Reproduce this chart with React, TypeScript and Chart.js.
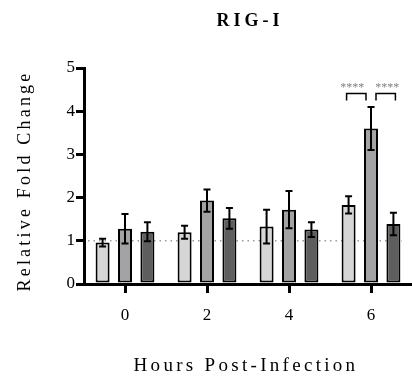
import React, { useEffect, useRef } from "react";
import { Chart, registerables } from "chart.js";

Chart.register(...registerables);

const categories = ["0", "2", "4", "6"];
const seriesA = [0.96, 1.2, 1.33, 1.83];
const seriesAErr = [0.09, 0.15, 0.39, 0.2];
const seriesB = [1.28, 1.93, 1.72, 3.6];
const seriesBErr = [0.34, 0.26, 0.43, 0.5];
const seriesC = [1.21, 1.52, 1.26, 1.39];
const seriesCErr = [0.22, 0.24, 0.17, 0.26];
const seriesColors = ["#d6d6d6", "#a3a3a6", "#5e5e5e"];
const yMin = 0;
const yMax = 5;
const baselineValue = 1;
const titleText = "RIG-I";
const xTitleText = "Hours Post-Infection";
const yTitleText = "Relative Fold Change";
const sigLabel = "****";
const sigCategory = 3;
const sigPairs = [
  [0, 1],
  [1, 2],
];
const sigBracketTop = 4.41;
const sigBracketBottom = 4.25;
const sigTextY = 4.6;

const SERIF = '"Liberation Serif", "Times New Roman", serif';

export default function App() {
  const canvasRef = useRef<HTMLCanvasElement | null>(null);

  useEffect(() => {
    document.body.style.margin = "0";
    const canvas = canvasRef.current;
    if (!canvas) return;
    const errs = [seriesAErr, seriesBErr, seriesCErr];

    const decorPlugin = {
      id: "decor",
      beforeDatasetsDraw(chart: any) {
        const { ctx, chartArea } = chart;
        const y = chart.scales.y.getPixelForValue(baselineValue);
        ctx.save();
        ctx.strokeStyle = "#9a9a9a";
        ctx.lineWidth = 1.5;
        ctx.setLineDash([1.5, 4]);
        ctx.beginPath();
        ctx.moveTo(chartArea.left + 4, y);
        ctx.lineTo(chartArea.right - 10, y);
        ctx.stroke();
        ctx.restore();
      },
      afterDatasetsDraw(chart: any) {
        const { ctx } = chart;
        const ys = chart.scales.y;
        ctx.save();
        ctx.strokeStyle = "#000";
        ctx.lineWidth = 2;
        chart.data.datasets.forEach((ds: any, di: number) => {
          const meta = chart.getDatasetMeta(di);
          meta.data.forEach((bar: any, i: number) => {
            const v = ds.data[i];
            const e = errs[di][i];
            const yt = ys.getPixelForValue(v + e);
            const yb = ys.getPixelForValue(v - e);
            const x = bar.x;
            ctx.beginPath();
            ctx.moveTo(x, yt);
            ctx.lineTo(x, yb);
            ctx.moveTo(x - 3.5, yt);
            ctx.lineTo(x + 3.5, yt);
            ctx.moveTo(x - 3.5, yb);
            ctx.lineTo(x + 3.5, yb);
            ctx.stroke();
          });
        });
        // significance brackets
        ctx.lineWidth = 1.5;
        const yTop = ys.getPixelForValue(sigBracketTop);
        const yBot = ys.getPixelForValue(sigBracketBottom);
        const yTxt = ys.getPixelForValue(sigTextY);
        sigPairs.forEach(([a, b], k) => {
          const xa = chart.getDatasetMeta(a).data[sigCategory].x + (k === 0 ? -2 : 5);
          const xb = chart.getDatasetMeta(b).data[sigCategory].x + (k === 0 ? -5 : 2);
          ctx.strokeStyle = "#000";
          ctx.beginPath();
          ctx.moveTo(xa, yBot);
          ctx.lineTo(xa, yTop);
          ctx.lineTo(xb, yTop);
          ctx.lineTo(xb, yBot);
          ctx.stroke();
          ctx.fillStyle = "#808080";
          ctx.font = `12px ${SERIF}`;
          ctx.textAlign = "center";
          ctx.textBaseline = "middle";
          ctx.fillText(sigLabel, (xa + xb) / 2 + (k === 0 ? -4 : 1.5), yTxt + 3);
        });
        ctx.restore();
      },
      afterDraw(chart: any) {
        const { ctx, chartArea } = chart;
        ctx.save();
        ctx.fillStyle = "#000";
        ctx.textAlign = "center";
        ctx.textBaseline = "middle";
        (ctx as any).letterSpacing = "4px";
        ctx.font = `bold 18px ${SERIF}`;
        ctx.fillText(titleText, (chartArea.left + chartArea.right) / 2 + 2, 21);
        (ctx as any).letterSpacing = "3.3px";
        ctx.font = `19px ${SERIF}`;
        ctx.fillText(xTitleText, 246, 366);
        ctx.save();
        ctx.translate(25, 181);
        ctx.rotate(-Math.PI / 2);
        (ctx as any).letterSpacing = "3.2px";
        ctx.font = `18px ${SERIF}`;
        ctx.fillText(yTitleText, 0, 0);
        ctx.restore();
        ctx.restore();
      },
    };

    const mk = (label: string, data: number[], color: string) => ({
      label,
      data,
      backgroundColor: color,
      borderColor: "#000",
      borderWidth: 2,
      borderSkipped: false,
      categoryPercentage: 0.82,
      barPercentage: 0.625,
    });

    const chart = new Chart(canvas, {
      type: "bar",
      data: {
        labels: categories,
        datasets: [
          mk("A", seriesA, seriesColors[0]),
          mk("B", seriesB, seriesColors[1]),
          mk("C", seriesC, seriesColors[2]),
        ],
      },
      options: {
        responsive: false,
        animation: false,
        layout: { padding: { top: 68, left: 0, right: 0, bottom: 0 } },
        plugins: {
          legend: { display: false },
          title: { display: false },
          tooltip: { enabled: false },
        },
        scales: {
          x: {
            grid: {
              display: true,
              offset: false,
              drawOnChartArea: false,
              drawTicks: true,
              tickLength: 9,
              lineWidth: 3,
              color: "#000",
            },
            border: { display: true, width: 3, color: "#000" },
            ticks: {
              color: "#000",
              font: { family: SERIF, size: 17 },
              padding: 12,
              maxRotation: 0,
            },
            afterFit(scale: any) {
              scale.height = 97;
            },
          },
          y: {
            min: yMin,
            max: yMax,
            grid: {
              display: true,
              drawOnChartArea: false,
              drawTicks: true,
              tickLength: 8,
              lineWidth: 3,
              color: "#000",
            },
            border: { display: true, width: 3, color: "#000" },
            ticks: {
              stepSize: 1,
              color: "#000",
              font: { family: SERIF, size: 17 },
              padding: 1,
            },
            afterFit(scale: any) {
              scale.width = 84;
            },
          },
        },
      },
      plugins: [decorPlugin],
    } as any);

    return () => {
      chart.destroy();
    };
  }, []);

  return (
    <div style={{ width: 412, height: 381 }}>
      <canvas ref={canvasRef} width={412} height={381} />
    </div>
  );
}
